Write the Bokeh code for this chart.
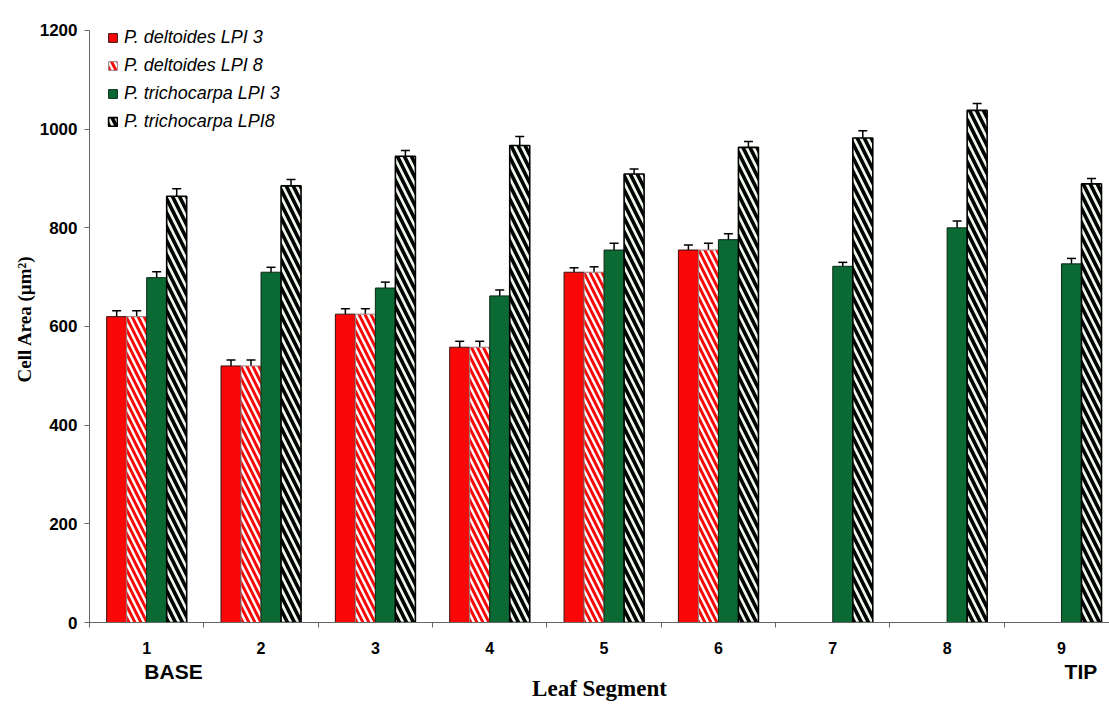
from bokeh.plotting import figure
from bokeh.models import (ColumnDataSource, Range1d, FixedTicker, Whisker, TeeHead,
                          Legend, LegendItem, LinearAxis, CustomJSTickFormatter)
from bokeh.embed import file_html
from bokeh.resources import INLINE

# ---------------- data ----------------
segments = [1, 2, 3, 4, 5, 6, 7, 8, 9]
segment_labels = ["1", "2", "3", "4", "5", "6", "7", "8", "9"]
end_label_pos = [1.235, 9.17]
end_labels = ["BASE", "TIP"]
delt_segments = [1, 2, 3, 4, 5, 6]
delt_lpi3 = [620, 520, 625, 558, 710, 755]
delt_lpi3_err = [12, 12, 11, 12, 9, 10]
delt_lpi8 = [620, 520, 625, 558, 710, 755]
delt_lpi8_err = [12, 12, 11, 12, 11, 14]
trich_lpi3 = [699, 710, 678, 662, 755, 776, 722, 800, 727]
trich_lpi3_err = [12, 10, 12, 12, 14, 12, 8, 14, 11]
trich_lpi8 = [864, 885, 945, 967, 909, 963, 982, 1038, 889]
trich_lpi8_err = [15, 13, 12, 18, 10, 12, 15, 14, 11]
series_names = ["P. deltoides LPI 3", "P. deltoides LPI 8",
                "P. trichocarpa LPI 3", "P. trichocarpa LPI8"]

RED = "#f90808"
GREEN = "#0b6934"
BW = 0.175
offsets = [-1.5 * BW, -0.5 * BW, 0.5 * BW, 1.5 * BW]

p = figure(width=1109, height=707, output_backend="svg", toolbar_location=None,
           x_range=Range1d(0.5, 9.42), y_range=Range1d(0, 1230.4))
p.min_border_left = 89
p.min_border_right = 0
p.min_border_top = 15
p.min_border_bottom = 85
p.outline_line_color = None
p.xgrid.visible = False
p.ygrid.visible = False
p.background_fill_color = "white"
p.border_fill_color = "white"

def src(xs, ys, errs, off):
    return ColumnDataSource(dict(
        x=[v + off for v in xs], top=ys,
        upper=[a + b for a, b in zip(ys, errs)],
        lower=[a - b for a, b in zip(ys, errs)]))

s1 = src(delt_segments, delt_lpi3, delt_lpi3_err, offsets[0])
s2 = src(delt_segments, delt_lpi8, delt_lpi8_err, offsets[1])
s3 = src(segments, trich_lpi3, trich_lpi3_err, offsets[2])
s4 = src(segments, trich_lpi8, trich_lpi8_err, offsets[3])

r1 = p.vbar(x="x", top="top", width=BW, source=s1, fill_color=RED,
            line_color="#3a1010", line_width=1)
r2 = p.vbar(x="x", top="top", width=BW, source=s2, fill_color="white",
            hatch_pattern="\\", hatch_color=RED, hatch_weight=3, hatch_scale=12,
            line_color="#9a8080", line_width=1)
r3 = p.vbar(x="x", top="top", width=BW, source=s3, fill_color=GREEN,
            line_color="#0a2a14", line_width=1)
r4 = p.vbar(x="x", top="top", width=BW, source=s4, fill_color="#eef8ea",
            hatch_pattern="\\", hatch_color="black", hatch_weight=3.6, hatch_scale=14,
            line_color="black", line_width=1.6)

for s in (s1, s2, s3, s4):
    w = Whisker(source=s, base="x", upper="upper", lower="lower",
                line_color="black", line_width=1.5,
                upper_head=TeeHead(size=9, line_color="black", line_width=1.5),
                lower_head=TeeHead(size=9, line_color="black", line_width=1.5))
    p.add_layout(w)

# y axis
yax = p.yaxis[0]
yax.ticker = FixedTicker(ticks=[0, 200, 400, 600, 800, 1000, 1200])
yax.bounds = (0, 1200)
yax.major_label_text_font = "Liberation Sans"
yax.major_label_text_font_style = "bold"
yax.major_label_text_font_size = "17px"
yax.major_label_text_color = "black"
yax.major_tick_out = 5
yax.major_tick_in = 0
yax.minor_tick_out = 0
yax.minor_tick_in = 0
yax.major_label_standoff = 7
yax.axis_line_color = "#666666"
yax.major_tick_line_color = "#666666"
yax.axis_label = "Cell Area (µm²)"
yax.axis_label_text_font = "Liberation Serif"
yax.axis_label_text_font_style = "bold"
yax.axis_label_text_font_size = "19px"
yax.axis_label_text_color = "black"
yax.axis_label_standoff = 2

# main x axis: numbers at segment centres, ticks at segment boundaries
xax = p.xaxis[0]
xax.ticker = FixedTicker(ticks=segments, minor_ticks=[s - 0.5 for s in segments] + [9.5])
xax.major_label_overrides = {s: l for s, l in zip(segments, segment_labels)}
xax.major_label_text_font = "Liberation Sans"
xax.major_label_text_font_style = "bold"
xax.major_label_text_font_size = "16px"
xax.major_label_text_color = "black"
xax.major_tick_out = 0
xax.major_tick_in = 0
xax.minor_tick_out = 5
xax.minor_tick_in = 0
xax.minor_tick_line_color = "#666666"
xax.major_label_standoff = 14
xax.axis_line_color = "#666666"

# second x axis: BASE / TIP and the axis title
ax2 = LinearAxis(ticker=FixedTicker(ticks=end_label_pos, minor_ticks=[]),
                 formatter=CustomJSTickFormatter(
                     args=dict(pos=end_label_pos, labels=end_labels),
                     code="let i = 0; let best = 1e9;"
                          "for (let k = 0; k < pos.length; k++) {"
                          "  const d = Math.abs(pos[k] - tick); if (d < best) { best = d; i = k; } }"
                          "return labels[i];"))
ax2.axis_line_color = None
ax2.major_tick_line_color = None
ax2.minor_tick_line_color = None
ax2.major_tick_out = 0
ax2.major_tick_in = 0
ax2.major_label_standoff = 3
ax2.major_label_text_font = "Liberation Sans"
ax2.major_label_text_font_style = "bold"
ax2.major_label_text_font_size = "21px"
ax2.major_label_text_color = "black"
ax2.axis_label = "Leaf Segment"
ax2.axis_label_text_font = "Liberation Serif"
ax2.axis_label_text_font_style = "bold"
ax2.axis_label_text_font_size = "23px"
ax2.axis_label_text_color = "black"
ax2.axis_label_standoff = -10
p.add_layout(ax2, "below")

legend = Legend(items=[LegendItem(label=series_names[0], renderers=[r1]),
                       LegendItem(label=series_names[1], renderers=[r2]),
                       LegendItem(label=series_names[2], renderers=[r3]),
                       LegendItem(label=series_names[3], renderers=[r4])],
                location=(18, 490), glyph_width=11, glyph_height=11,
                label_height=22, spacing=6, padding=0, margin=0,
                label_standoff=6,
                label_text_font="Liberation Sans", label_text_font_style="italic",
                label_text_font_size="18px", label_text_color="black",
                border_line_color=None, background_fill_alpha=0)
p.add_layout(legend, "center")

open("out.html", "w").write(file_html(p, INLINE))
